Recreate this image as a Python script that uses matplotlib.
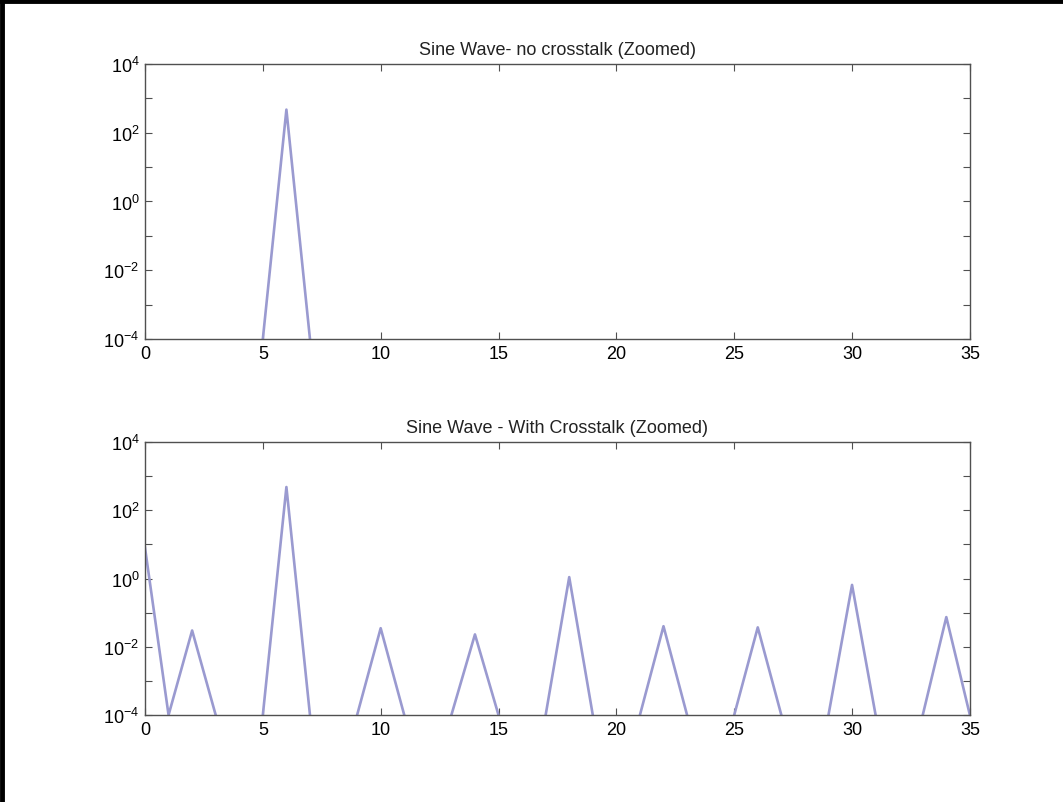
import numpy as np
import matplotlib.pyplot as plt
from matplotlib.lines import Line2D

plt.rcParams['font.family'] = ['Liberation Sans', 'DejaVu Sans']
plt.rcParams['mathtext.fontset'] = 'custom'
plt.rcParams['mathtext.rm'] = 'Liberation Sans'

# frequency bins 0..35
bins = np.arange(0, 36)
deep = 1e-8     # bins with (almost) no energy, far below the axis
foot = 1e-4     # bins right next to a peak

# top: clean sine, single peak at bin 6
clean = np.full(36, deep)
clean[[5, 7]] = foot
clean[6] = 470.0

# bottom: with crosstalk
peak_bins = [0, 2, 6, 10, 14, 18, 22, 26, 30, 34]
peak_vals = [8.0, 0.03, 480.0, 0.035, 0.023, 1.1, 0.04, 0.037, 0.65, 0.074]
foot_bins = [1, 3, 5, 7, 9, 11, 13, 15, 17, 19, 21, 23, 25, 27, 29, 31, 33, 35]
crosstalk = np.full(36, deep)
crosstalk[foot_bins] = foot
crosstalk[peak_bins] = peak_vals

titles = ["Sine Wave- no crosstalk (Zoomed)", "Sine Wave - With Crosstalk (Zoomed)"]
xticks = [0, 5, 10, 15, 20, 25, 30, 35]
ydecades = np.arange(-4, 5)

line_col = '#9a9ad0'
spine_col = '#505050'

fig = plt.figure(figsize=(10.63, 8.03), dpi=100)
ax1 = fig.add_axes([0.1364, 0.5766, 0.776, 0.3425])
ax2 = fig.add_axes([0.1364, 0.1083, 0.776, 0.340])

for ax, data, title in [(ax1, clean, titles[0]), (ax2, crosstalk, titles[1])]:
    ax.semilogy(bins, data, color=line_col, lw=1.9)
    ax.set_xlim(0, 35)
    ax.set_ylim(1e-4, 1e4)
    ax.set_xticks(xticks)
    ax.set_yticks([10.0 ** k for k in ydecades])
    ax.set_yticklabels([r'$10^{%d}$' % k if k % 2 == 0 else '' for k in ydecades])
    ax.minorticks_off()
    ax.tick_params(direction='in', top=True, right=True, length=5,
                   width=0.8, color=spine_col, labelsize=13, pad=4)
    for s in ax.spines.values():
        s.set_color(spine_col)
        s.set_linewidth(1.0)
    ax.set_title(title, fontsize=13, pad=7, color='#222222')

# black frame on the top and left edge of the picture
fig.add_artist(Line2D([0, 1], [0.997, 0.997], color='black', lw=3.5, transform=fig.transFigure))
fig.add_artist(Line2D([0.002, 0.002], [0, 1], color='black', lw=3.5, transform=fig.transFigure))

fig.savefig('out.png', dpi=100)
